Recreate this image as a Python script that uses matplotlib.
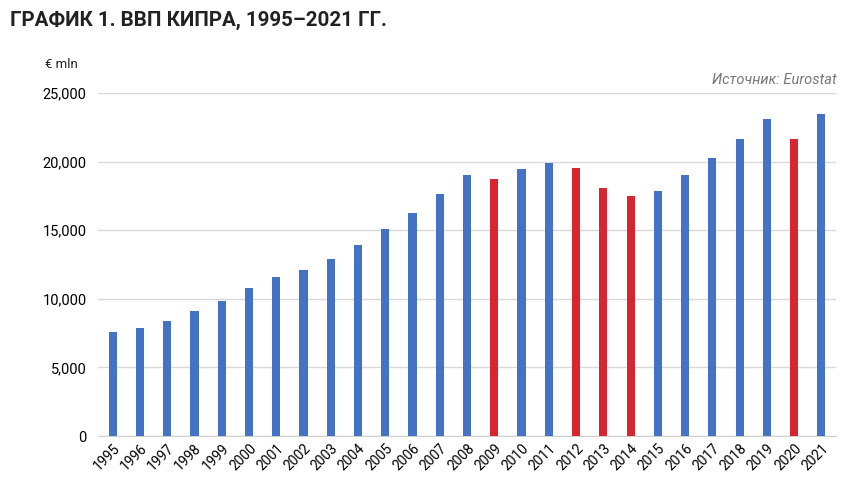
import matplotlib.pyplot as plt
import numpy as np
from matplotlib.ticker import FuncFormatter

plt.rcParams['font.family'] = ['Roboto', 'DejaVu Sans']

# данные: ВВП Кипра, млн евро (оценка по картинке)
years = [str(y) for y in range(1995, 2022)]
gdp = [7560, 7890, 8380, 9130, 9860, 10760, 11590, 12100, 12900, 13900,
       15060, 16250, 17610, 19040, 18700, 19430, 19870, 19500, 18040, 17480,
       17870, 18990, 20280, 21620, 23080, 21620, 23470]
red_years = ['2009', '2012', '2013', '2014', '2020']

blue = '#4472C4'
red = '#D92530'
colors = [red if y in red_years else blue for y in years]

fig = plt.figure(figsize=(8.5, 4.83), dpi=100)
ax = fig.add_axes([0.115, 0.0973, 0.869, 0.7102])

x = np.arange(len(years))
ax.bar(x, gdp, width=0.3, color=colors, zorder=3)

ax.set_ylim(0, 25000)
ax.set_xlim(-0.55, len(years) - 0.45)
ax.set_yticks(np.arange(0, 25001, 5000))
ax.yaxis.set_major_formatter(FuncFormatter(lambda v, p: f'{int(v):,}'))
ax.grid(axis='y', color='#d9d9d9', linewidth=1, zorder=0)
ax.set_xticks(x)
ax.set_xticklabels(years, rotation=45, ha='right', rotation_mode='anchor', fontsize=10)
ax.tick_params(axis='y', labelsize=10.5, length=0, pad=8)
ax.tick_params(axis='x', length=0, pad=4)
for s in ['top', 'right', 'left']:
    ax.spines[s].set_visible(False)
ax.spines['bottom'].set_color('#d0d0d0')

fig.text(0.012, 0.958, 'ГРАФИК 1. ВВП КИПРА, 1995–2021 ГГ.', fontsize=14.8,
         fontweight='bold', color='#222222', va='center')
fig.text(0.053, 0.866, '€ mln', fontsize=9.5, color='#222222', va='center')
fig.text(0.984, 0.835, 'Источник: Eurostat', fontsize=10.5, style='italic',
         color='#777777', ha='right', va='center')

fig.savefig('out.png', dpi=100)
